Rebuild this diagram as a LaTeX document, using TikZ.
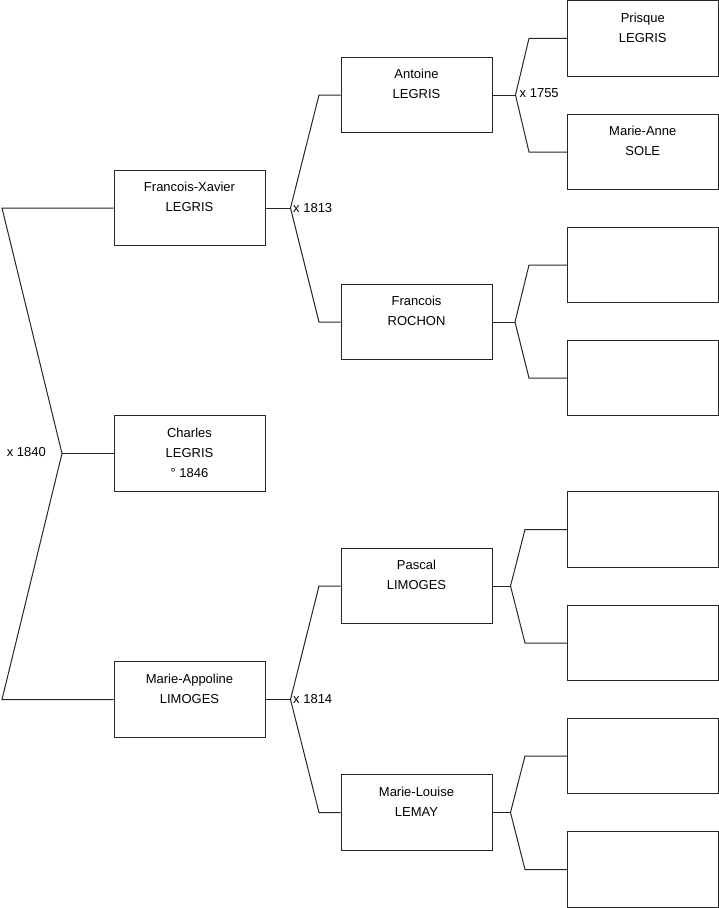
\documentclass[tikz,border=0pt]{standalone}
\usepackage{fontspec}
\setmainfont{Liberation Sans}
\begin{document}
\begin{tikzpicture}[x=1pt,y=-1pt,
  box/.style={draw=black!85, line width=1pt, minimum width=151pt, minimum height=75.5pt, inner sep=0pt, fill=white},
  lbl/.style={anchor=north, align=center, inner sep=0pt, yshift=-12.5pt, font=\fontsize{13}{20}\selectfont},
  conn/.style={draw=black!85, line width=1pt},
  yr/.style={inner sep=0pt, font=\fontsize{13}{16}\selectfont}]
\useasboundingbox (0,0) rectangle (719,908);
% column 1
\node[box, label={[lbl]north:Francois-Xavier\\LEGRIS}] (fx) at (189.5,208) {};
\node[box, label={[lbl]north:Charles\\LEGRIS\\° 1846}] (ch) at (189.5,453.5) {};
\node[box, label={[lbl]north:Marie-Appoline\\LIMOGES}] (ma) at (189.5,699.5) {};
% column 2
\node[box, label={[lbl]north:Antoine\\LEGRIS}] (an) at (416.5,95) {};
\node[box, label={[lbl]north:Francois\\ROCHON}] (fr) at (416.5,322) {};
\node[box, label={[lbl]north:Pascal\\LIMOGES}] (pa) at (416.5,586) {};
\node[box, label={[lbl]north:Marie-Louise\\LEMAY}] (ml) at (416.5,812.5) {};
% column 3
\node[box, label={[lbl]north:Prisque\\LEGRIS}] (pr) at (642.8,38.3) {};
\node[box, label={[lbl]north:Marie-Anne\\SOLE}] (mn) at (642.8,152) {};
\node[box] (e1) at (642.8,265) {};
\node[box] (e2) at (642.8,378) {};
\node[box] (e3) at (642.8,529.5) {};
\node[box] (e4) at (642.8,643) {};
\node[box] (e5) at (642.8,756) {};
\node[box] (e6) at (642.8,869.5) {};
% joints
\coordinate (j0) at (62,453.5);
\coordinate (j0a) at (2,208);
\coordinate (j0b) at (2,699.5);
\coordinate (j1) at (290.5,208);
\coordinate (j1a) at (319,95);
\coordinate (j1b) at (319,322);
\coordinate (j2) at (290.5,699.5);
\coordinate (j2a) at (319,586);
\coordinate (j2b) at (319,812.5);
\coordinate (j3) at (515.5,95);
\coordinate (j3a) at (529,38.3);
\coordinate (j3b) at (529,152);
\coordinate (j4) at (515,322);
\coordinate (j4a) at (529,265);
\coordinate (j4b) at (529,378);
\coordinate (j5) at (510.5,586);
\coordinate (j5a) at (525,529.5);
\coordinate (j5b) at (525,643);
\coordinate (j6) at (510.5,812.5);
\coordinate (j6a) at (525,756);
\coordinate (j6b) at (525,869.5);
% connectors
\draw[conn] (ch.west) -- (j0);
\draw[conn] (j0) -- (j0a) -- (fx.west);
\draw[conn] (j0) -- (j0b) -- (ma.west);
\draw[conn] (fx.east) -- (j1);
\draw[conn] (j1) -- (j1a) -- (an.west);
\draw[conn] (j1) -- (j1b) -- (fr.west);
\draw[conn] (ma.east) -- (j2);
\draw[conn] (j2) -- (j2a) -- (pa.west);
\draw[conn] (j2) -- (j2b) -- (ml.west);
\draw[conn] (an.east) -- (j3);
\draw[conn] (j3) -- (j3a) -- (pr.west);
\draw[conn] (j3) -- (j3b) -- (mn.west);
\draw[conn] (fr.east) -- (j4);
\draw[conn] (j4) -- (j4a) -- (e1.west);
\draw[conn] (j4) -- (j4b) -- (e2.west);
\draw[conn] (pa.east) -- (j5);
\draw[conn] (j5) -- (j5a) -- (e3.west);
\draw[conn] (j5) -- (j5b) -- (e4.west);
\draw[conn] (ml.east) -- (j6);
\draw[conn] (j6) -- (j6a) -- (e5.west);
\draw[conn] (j6) -- (j6b) -- (e6.west);
% marriage labels
\node[yr, anchor=east] (m0) at (46,452.5) {x 1840};
\node[yr, anchor=west] (m1) at (293,208) {x 1813};
\node[yr, anchor=west] (m2) at (293,699) {x 1814};
\node[yr, anchor=west] (m3) at (519.5,93) {x 1755};
\end{tikzpicture}
\end{document}
